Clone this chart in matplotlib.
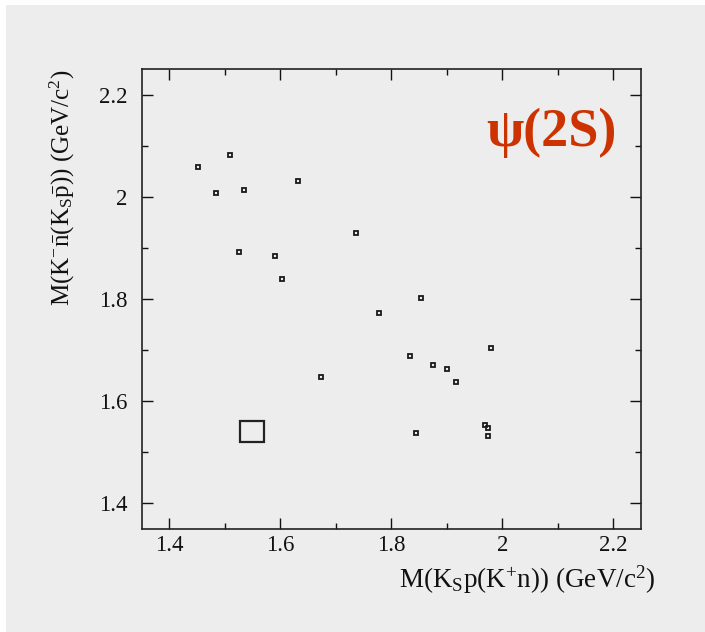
import matplotlib
matplotlib.use("Agg")
import matplotlib.pyplot as plt
from matplotlib.patches import Rectangle
from matplotlib.ticker import MultipleLocator

# Event positions (GeV/c^2)
x_events = [1.509, 1.451, 1.632, 1.484, 1.535, 1.736, 1.525, 1.591, 1.602,
            1.854, 1.777, 1.979, 1.834, 1.875, 1.900, 1.916, 1.673,
            1.969, 1.975, 1.975, 1.844]
y_events = [2.082, 2.058, 2.032, 2.008, 2.013, 1.929, 1.892, 1.884, 1.839,
            1.802, 1.773, 1.704, 1.688, 1.672, 1.664, 1.638, 1.648,
            1.553, 1.547, 1.533, 1.537]
# Large box (high-content bin)
box_x = [1.548]
box_y = [1.541]

x_ticks = [1.4, 1.6, 1.8, 2.0, 2.2]
x_ticklabels = ["1.4", "1.6", "1.8", "2", "2.2"]
y_ticks = [1.4, 1.6, 1.8, 2.0, 2.2]
y_ticklabels = ["1.4", "1.6", "1.8", "2", "2.2"]

plt.rcParams['font.family'] = ['Liberation Serif', 'DejaVu Serif']
plt.rcParams['mathtext.fontset'] = 'custom'
plt.rcParams['mathtext.rm'] = 'Liberation Serif'
plt.rcParams['mathtext.it'] = 'Liberation Serif:italic'
plt.rcParams['mathtext.bf'] = 'Liberation Serif:bold'

bg = '#ededed'
fig = plt.figure(figsize=(7.05, 6.32), dpi=100, facecolor='white')
fig.patches.append(Rectangle((6/705, 0), 1 - 6/705, 1 - 5/632,
                             transform=fig.transFigure, facecolor=bg,
                             edgecolor='none', zorder=-10))

ax = fig.add_axes([141.7/705, 1 - 529/632, (641 - 141.7)/705, (529 - 69.3)/632])
ax.set_facecolor(bg)
ax.set_xlim(1.35, 2.25)
ax.set_ylim(1.35, 2.25)

ax.plot(x_events, y_events, linestyle='none', marker='s', markersize=3.4,
        markerfacecolor='none', markeredgecolor='#1a1a1a', markeredgewidth=1.3)

for bx, by in zip(box_x, box_y):
    w, h = 0.0433, 0.041
    ax.add_patch(Rectangle((bx - w/2, by - h/2), w, h, facecolor='none',
                           edgecolor='#222222', linewidth=1.6))

ax.set_xticks(x_ticks)
ax.set_xticklabels(x_ticklabels)
ax.set_yticks(y_ticks)
ax.set_yticklabels(y_ticklabels)
ax.xaxis.set_minor_locator(MultipleLocator(0.1))
ax.yaxis.set_minor_locator(MultipleLocator(0.1))
ax.tick_params(which='both', direction='in', top=True, right=True,
               labelsize=16.5, colors='#111111')
ax.tick_params(which='major', length=8, width=1)
ax.tick_params(which='minor', length=4.5, width=1)
ax.tick_params(axis='x', pad=4)
ax.tick_params(axis='y', pad=10)
for s in ax.spines.values():
    s.set_linewidth(1.2)
    s.set_color('#222222')

fig.text(655/705, 1 - 588/632,
         r'M(K$_{\mathrm{S}}$p(K$^{+}$n)) (GeV/c$^{2}$)',
         ha='right', va='baseline', fontsize=19.5, color='#111111')
fig.text(62/705, 1 - 70/632,
         r'M(K$^{-}\bar{\mathrm{n}}$(K$_{\mathrm{S}}\bar{\mathrm{p}}$)) (GeV/c$^{2}$)',
         ha='center', va='top', rotation=90, fontsize=18, color='#111111')

fig.text(551/705, 1 - 146/632, 'ψ(2S)', ha='center', va='baseline',
         fontsize=39, fontweight='bold', color='#cc3300')

fig.savefig('out.png', dpi=100, facecolor=fig.get_facecolor())
